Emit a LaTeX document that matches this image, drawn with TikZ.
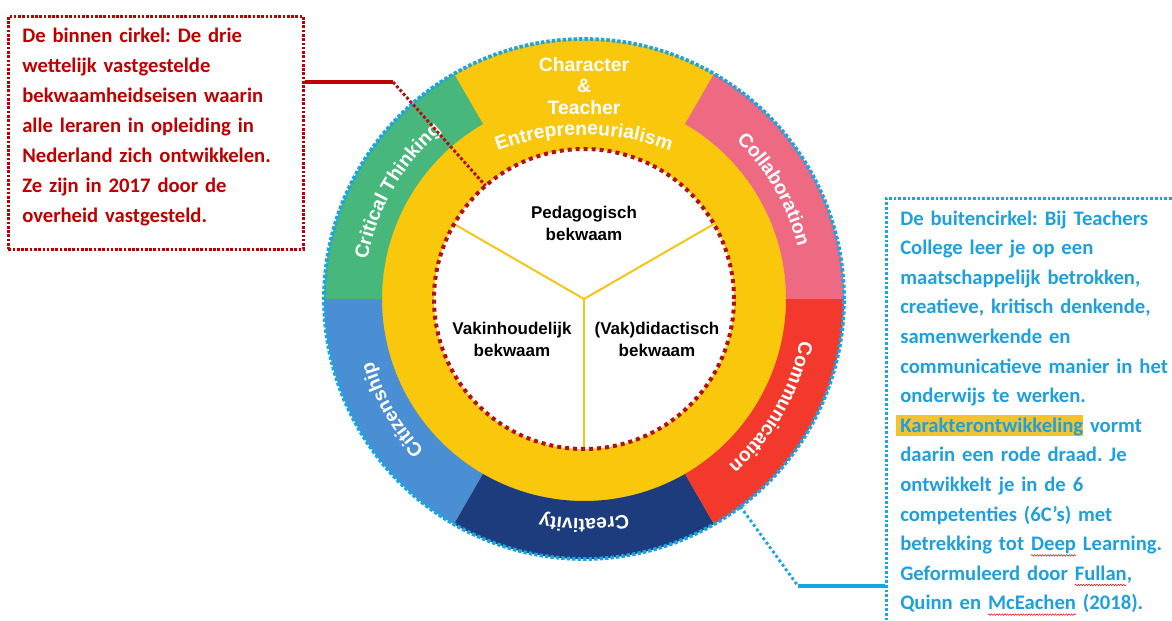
\documentclass[tikz,border=0pt]{standalone}
\usepackage{fontspec}
\setmainfont{Carlito}
\newfontfamily\ringfont{Liberation Sans}
\usetikzlibrary{decorations.text,decorations.pathmorphing,calc}
\definecolor{ringyellow}{HTML}{F9C70C}
\definecolor{ringgreen}{HTML}{48B77B}
\definecolor{ringpink}{HTML}{EE6A82}
\definecolor{ringred}{HTML}{F3382C}
\definecolor{ringnavy}{HTML}{1D3C7E}
\definecolor{ringblue}{HTML}{4A8FD3}
\definecolor{dotblue}{HTML}{1AA5E6}
\definecolor{dotred}{HTML}{B40F16}
\definecolor{redtext}{HTML}{C00000}
\definecolor{bluetext}{HTML}{1FA0DE}
\definecolor{hlcol}{HTML}{F2C330}
\definecolor{spokecol}{HTML}{F5C518}
\frenchspacing
\newsavebox\hlbox
\newsavebox\sqbox
\newcommand\hlt[1]{\sbox\hlbox{#1}\makebox[0pt][l]{\hspace{-3pt}\textcolor{hlcol}{\rule[-0.16em]{\dimexpr\wd\hlbox+3pt\relax}{0.98em}}}\usebox\hlbox}
\newcommand\squig[1]{\sbox\sqbox{#1}\makebox[0pt][l]{\tikz[baseline=0pt]\draw[overlay,red!85!black,line width=0.35pt,decorate,decoration={snake,amplitude=0.6pt,segment length=2pt}] (0pt,-3.6pt) -- (\wd\sqbox,-3.6pt);}\usebox\sqbox}
\newcommand\ringsty{\ringfont\bfseries\fontsize{14.5}{16}\selectfont\color{white}}
\begin{document}
\begin{tikzpicture}[x=0.75pt,y=0.75pt,
  ringlabel/.style={decorate,decoration={text along path,text align=center,text={|\ringsty|#1}}},
  innerlbl/.style={font=\ringfont\bfseries\fontsize{12.75}{16.5}\selectfont,align=center,inner sep=0},
  redframe/.style={draw=redtext,line width=2.1pt,dash pattern=on 2pt off 1.2pt,inner sep=0},
  blueframe/.style={draw=dotblue,line width=2.1pt,dash pattern=on 2pt off 1.5pt,inner sep=0},
  redtxt/.style={font=\bfseries\fontsize{15.5}{22.5}\selectfont,text=redtext,align=left,text width=210pt,inner sep=0},
  bluetxt/.style={font=\bfseries\fontsize{15.5}{22.2}\selectfont,text=bluetext,align=left,text width=215pt,inner sep=0},
  spoke/.style={draw=spokecol,line width=1.5pt},
  reddots/.style={draw=dotred,line width=2.2pt,dash pattern=on 2.2pt off 1.6pt},
  redsolid/.style={draw=redtext,line width=2.3pt},
  bluedots/.style={draw=dotblue,line width=2.2pt,dash pattern=on 2.1pt off 2pt},
  bluesolid/.style={draw=dotblue,line width=2.3pt},
]
\clip (0,0) rectangle (1172,-621);
\coordinate (C) at (584,-299);
% ring
\fill[ringyellow] (C) circle[radius=260];
\foreach \a/\b/\col in {0/60/ringpink,120/180/ringgreen,180/240/ringblue,240/300/ringnavy,300/360/ringred}{
  \fill[\col] ($(C)+(\a:202)$) arc[start angle=\a,end angle=\b,radius=202]
    -- ($(C)+(\b:260)$) arc[start angle=\b,end angle=\a,radius=260] -- cycle;
}
% inner circle
\node[circle,minimum size=225pt,inner sep=0,outer sep=0,fill=white] (inner) at (C) {};
\draw[spoke] (C) -- (inner.150);
\draw[spoke] (C) -- (inner.30);
\draw[spoke] (C) -- (inner.270);
\draw[draw=dotred,line width=3pt,dash pattern=on 3pt off 3pt] (C) circle[radius=150];
\node[innerlbl] (ped) at (584,-223) {Pedagogisch\\bekwaam};
\node[innerlbl] (vak) at (512,-339) {Vakinhoudelijk\\bekwaam};
\node[innerlbl] (did) at (657,-339) {(Vak)didactisch\\bekwaam};
% ring labels
\node[font=\ringsty,align=center,inner sep=0] (charlbl) at (584,-86) {Character\\\&\\Teacher};
\path[ringlabel=Entrepreneurialism] ($(584,-381)+(112:246)$) arc[start angle=112,end angle=68,radius=246];
\path[ringlabel=Collaboration] ($(C)+(60:220)$) arc[start angle=60,end angle=0,radius=220];
\path[ringlabel=Communication] ($(C)+(0:220)$) arc[start angle=0,end angle=-60,radius=220];
\path[ringlabel=Creativity] ($(C)+(-60:220)$) arc[start angle=-60,end angle=-120,radius=220];
\path[ringlabel=Citizenship] ($(C)+(240:220)$) arc[start angle=240,end angle=180,radius=220];
\path[ringlabel={Critical Thinking}] ($(C)+(180:220)$) arc[start angle=180,end angle=120,radius=220];
% outer circle
\node[circle,minimum size=390pt,inner sep=0,outer sep=0,draw=dotblue,line width=2.8pt,dash pattern=on 2.6pt off 1.5pt] (outer) at (C) {};
% red box
\node[redframe,anchor=north west,minimum width=221.25pt,minimum height=174.75pt] (redbox) at (7,-15) {};
\node[redtxt,anchor=base west] (redtext) at (22,-42) {De binnen cirkel: De drie\\wettelijk vastgestelde\\bekwaamheidseisen waarin\\alle leraren in opleiding in\\Nederland zich ontwikkelen.\\Ze zijn in 2017 door de\\overheid vastgesteld.};
\coordinate (rjoint) at (393,-82);
\draw[redsolid] (redbox.east |- rjoint) -- (rjoint);
\draw[reddots] (rjoint) -- (inner.131);
% blue box
\node[blueframe,anchor=north west,minimum width=232pt,minimum height=345pt] (bluebox) at (885,-197) {};
\node[bluetxt,anchor=base west] (bluetext) at (900,-225) {De buitencirkel: Bij Teachers\\College leer je op een\\maatschappelijk betrokken,\\creatieve, kritisch denkende,\\samenwerkende en\\communicatieve manier in het\\onderwijs te werken.\\\hlt{Karakterontwikkeling} vormt\\daarin een rode draad. Je\\ontwikkelt je in de 6\\competenties (6C’s) met\\betrekking tot \squig{Deep} Learning.\\Geformuleerd door \squig{Fullan},\\Quinn en \squig{McEachen} (2018).};
\coordinate (bjoint) at (798,-586);
\draw[bluedots] (outer.-53) -- (bjoint);
\draw[bluesolid] (bjoint) -- (bluebox.west |- bjoint);
\end{tikzpicture}
\end{document}
